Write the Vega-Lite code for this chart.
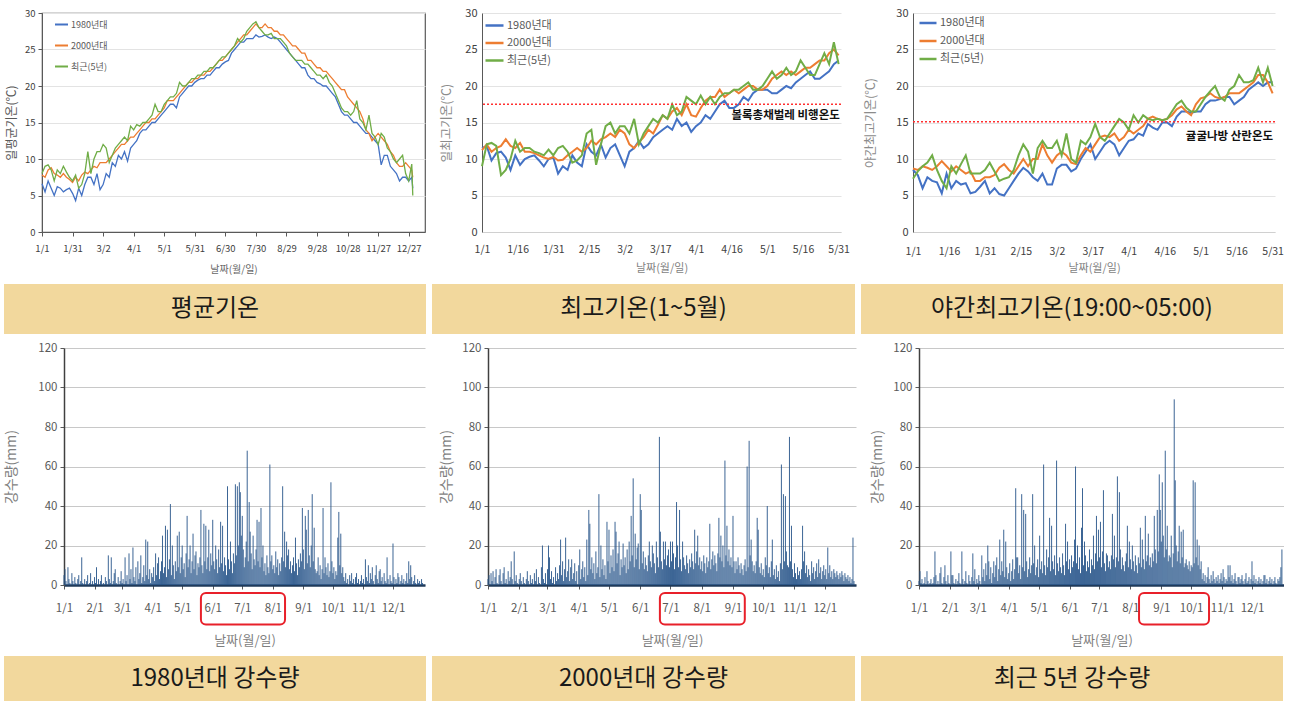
{
"$schema":"https://vega.github.io/schema/vega-lite/v6.json",
"background":"white",
"padding":{"left":-11,"top":7,"right":0,"bottom":0},
"config":{
 "font":"Noto Sans CJK KR",
 "view":{"stroke":null},
 "axis":{"labelFont":"Noto Sans CJK KR","titleFont":"Noto Sans CJK KR","titleFontWeight":"normal","labelColor":"#404040","titleColor":"#7F7F7F","domainColor":"#595959","tickColor":"#595959","gridColor":"#E3E3E3","labelFlush":false,"labelOverlap":false,"tickCount":30},
 "legend":{"labelFont":"Noto Sans CJK KR","labelColor":"#595959"}
},
"datasets":{
"t1":[
{"d":1,"a":6.6,"b":7.8,"c":8.0},{"d":4,"a":5.5,"b":7.5,"c":9.0},{"d":7,"a":7.0,"b":8.5,"c":9.2},{"d":10,"a":6.0,"b":8.8,"c":8.5},{"d":13,"a":5.0,"b":8.0,"c":7.0},{"d":16,"a":6.2,"b":7.8,"c":8.5},{"d":19,"a":6.0,"b":7.5,"c":8.0},{"d":22,"a":5.5,"b":8.0,"c":9.0},{"d":25,"a":5.8,"b":7.5,"c":8.2},{"d":28,"a":6.0,"b":7.2,"c":7.5},{"d":31,"a":5.3,"b":6.8,"c":7.0},{"d":34,"a":4.3,"b":7.5,"c":7.8},{"d":37,"a":6.0,"b":7.0,"c":6.0},{"d":40,"a":5.0,"b":7.8,"c":6.5},{"d":43,"a":6.5,"b":8.2,"c":8.0},{"d":46,"a":7.5,"b":8.0,"c":11.0},{"d":49,"a":7.5,"b":8.5,"c":8.0},{"d":52,"a":6.5,"b":9.0,"c":10.0},{"d":55,"a":8.0,"b":8.8,"c":11.0},{"d":58,"a":5.8,"b":9.5,"c":11.0},{"d":61,"a":6.5,"b":9.5,"c":12.0},{"d":64,"a":8.0,"b":9.5,"c":11.5},{"d":67,"a":7.5,"b":10.0,"c":9.5},{"d":70,"a":9.5,"b":10.5,"c":10.5},{"d":73,"a":9.0,"b":11.0,"c":11.5},{"d":76,"a":10.5,"b":11.5,"c":12.0},{"d":79,"a":10.0,"b":12.0,"c":12.5},{"d":82,"a":11.0,"b":12.0,"c":13.0},{"d":85,"a":9.7,"b":12.5,"c":12.5},{"d":88,"a":11.5,"b":13.0,"c":14.5},{"d":91,"a":12.0,"b":13.0,"c":14.0},{"d":94,"a":12.5,"b":13.5,"c":14.7},{"d":97,"a":13.5,"b":14.0,"c":14.5},{"d":100,"a":14.0,"b":14.5,"c":15.0},{"d":103,"a":14.0,"b":15.0,"c":15.0},{"d":106,"a":14.5,"b":15.0,"c":15.5},{"d":109,"a":15.0,"b":15.5,"c":16.0},{"d":112,"a":15.0,"b":15.5,"c":17.5},{"d":115,"a":15.5,"b":16.0,"c":16.5},{"d":118,"a":16.0,"b":16.5,"c":16.5},{"d":121,"a":16.5,"b":17.0,"c":17.5},{"d":124,"a":17.0,"b":18.0,"c":18.0},{"d":127,"a":17.5,"b":18.0,"c":18.5},{"d":130,"a":17.5,"b":18.0,"c":18.5},{"d":133,"a":17.0,"b":18.5,"c":19.0},{"d":136,"a":18.5,"b":19.0,"c":20.5},{"d":139,"a":19.0,"b":19.5,"c":20.0},{"d":142,"a":19.5,"b":20.0,"c":20.0},{"d":145,"a":20.0,"b":20.5,"c":20.5},{"d":148,"a":20.0,"b":20.5,"c":21.0},{"d":151,"a":20.5,"b":21.0,"c":21.0},{"d":154,"a":20.8,"b":21.0,"c":21.5},{"d":157,"a":21.0,"b":21.5,"c":21.5},{"d":160,"a":21.0,"b":21.5,"c":22.0},{"d":163,"a":21.5,"b":22.0,"c":22.0},{"d":166,"a":21.5,"b":22.0,"c":22.5},{"d":169,"a":22.0,"b":22.5,"c":22.5},{"d":172,"a":22.5,"b":23.0,"c":23.0},{"d":175,"a":22.5,"b":23.5,"c":23.5},{"d":178,"a":23.0,"b":23.5,"c":24.0},{"d":181,"a":23.3,"b":24.0,"c":24.0},{"d":184,"a":23.5,"b":24.5,"c":24.5},{"d":187,"a":24.5,"b":25.0,"c":25.0},{"d":190,"a":25.0,"b":25.5,"c":25.5},{"d":193,"a":25.5,"b":26.0,"c":26.5},{"d":196,"a":26.0,"b":26.5,"c":26.0},{"d":199,"a":26.0,"b":27.0,"c":26.5},{"d":202,"a":26.5,"b":27.0,"c":27.5},{"d":205,"a":26.5,"b":27.5,"c":28.0},{"d":208,"a":26.5,"b":28.0,"c":28.5},{"d":211,"a":27.0,"b":28.5,"c":28.8},{"d":214,"a":26.7,"b":28.0,"c":28.0},{"d":217,"a":26.8,"b":28.0,"c":27.5},{"d":220,"a":27.0,"b":28.5,"c":27.0},{"d":223,"a":26.7,"b":28.0,"c":27.0},{"d":226,"a":26.5,"b":28.0,"c":27.2},{"d":229,"a":26.7,"b":27.5,"c":26.5},{"d":232,"a":26.5,"b":27.5,"c":26.5},{"d":235,"a":26.0,"b":27.0,"c":26.5},{"d":238,"a":25.5,"b":27.0,"c":26.0},{"d":241,"a":25.0,"b":26.5,"c":25.5},{"d":244,"a":24.5,"b":26.0,"c":24.5},{"d":247,"a":24.0,"b":25.5,"c":24.0},{"d":250,"a":23.5,"b":25.5,"c":23.5},{"d":253,"a":23.0,"b":25.0,"c":23.5},{"d":256,"a":22.5,"b":24.5,"c":23.5},{"d":259,"a":22.5,"b":24.5,"c":23.0},{"d":262,"a":21.5,"b":23.5,"c":23.0},{"d":265,"a":21.0,"b":23.5,"c":22.5},{"d":268,"a":21.0,"b":23.0,"c":22.0},{"d":271,"a":20.5,"b":22.5,"c":21.5},{"d":274,"a":20.3,"b":22.5,"c":21.5},{"d":277,"a":20.0,"b":22.0,"c":21.0},{"d":280,"a":20.0,"b":22.0,"c":21.5},{"d":283,"a":19.5,"b":21.5,"c":20.5},{"d":286,"a":19.0,"b":21.0,"c":20.0},{"d":289,"a":18.5,"b":20.5,"c":19.0},{"d":292,"a":17.5,"b":20.0,"c":18.0},{"d":295,"a":16.5,"b":19.5,"c":17.0},{"d":298,"a":16.0,"b":19.5,"c":16.5},{"d":301,"a":16.0,"b":18.5,"c":16.5},{"d":304,"a":15.5,"b":18.0,"c":16.0},{"d":307,"a":15.0,"b":17.5,"c":16.5},{"d":310,"a":15.0,"b":17.0,"c":18.0},{"d":313,"a":14.5,"b":16.5,"c":15.5},{"d":316,"a":14.0,"b":15.5,"c":15.0},{"d":319,"a":13.5,"b":14.0,"c":14.0},{"d":322,"a":13.5,"b":13.5,"c":16.0},{"d":325,"a":13.0,"b":12.5,"c":13.5},{"d":328,"a":12.5,"b":13.0,"c":13.0},{"d":331,"a":12.0,"b":13.5,"c":12.0},{"d":334,"a":9.2,"b":13.0,"c":13.5},{"d":337,"a":10.5,"b":12.5,"c":13.0},{"d":340,"a":10.5,"b":12.0,"c":11.5},{"d":343,"a":9.0,"b":11.0,"c":11.0},{"d":346,"a":8.5,"b":10.5,"c":10.0},{"d":349,"a":8.0,"b":9.5,"c":9.5},{"d":352,"a":7.0,"b":9.0,"c":10.0},{"d":355,"a":7.5,"b":9.0,"c":10.5},{"d":358,"a":7.5,"b":9.5,"c":8.0},{"d":361,"a":7.0,"b":9.0,"c":7.0},{"d":364,"a":7.5,"b":8.5,"c":9.3},{"d":365,"a":6.0,"b":7.5,"c":5.0}
],
"t2":[
{"d":1,"a":11.5,"b":11.2,"c":9.0},{"d":3,"a":11.8,"b":12.0,"c":12.0},{"d":5,"a":9.8,"b":11.0,"c":12.2},{"d":7,"a":10.8,"b":11.5,"c":11.8},{"d":9,"a":11.0,"b":11.8,"c":7.8},{"d":11,"a":10.2,"b":12.7,"c":8.5},{"d":13,"a":8.5,"b":11.8,"c":10.0},{"d":15,"a":10.5,"b":11.5,"c":12.5},{"d":17,"a":9.2,"b":12.2,"c":11.0},{"d":19,"a":10.0,"b":11.0,"c":11.5},{"d":21,"a":10.3,"b":11.0,"c":11.5},{"d":23,"a":10.5,"b":10.8,"c":11.0},{"d":25,"a":9.8,"b":10.5,"c":10.8},{"d":27,"a":9.0,"b":10.2,"c":10.5},{"d":29,"a":10.0,"b":10.0,"c":11.3},{"d":31,"a":10.2,"b":10.3,"c":10.5},{"d":33,"a":8.0,"b":9.8,"c":11.5},{"d":35,"a":9.0,"b":9.9,"c":11.8},{"d":37,"a":8.5,"b":10.5,"c":11.0},{"d":39,"a":10.5,"b":11.0,"c":9.5},{"d":41,"a":9.5,"b":11.5,"c":9.8},{"d":43,"a":9.0,"b":11.0,"c":10.5},{"d":45,"a":12.0,"b":11.5,"c":13.5},{"d":47,"a":11.0,"b":12.5,"c":14.0},{"d":49,"a":10.5,"b":12.0,"c":9.2},{"d":51,"a":12.0,"b":12.7,"c":12.0},{"d":53,"a":10.2,"b":13.0,"c":14.5},{"d":55,"a":11.5,"b":13.5,"c":15.0},{"d":57,"a":12.0,"b":13.0,"c":13.5},{"d":59,"a":10.5,"b":14.0,"c":14.5},{"d":61,"a":9.0,"b":13.5,"c":14.5},{"d":63,"a":11.0,"b":12.0,"c":13.5},{"d":65,"a":11.5,"b":11.5,"c":15.5},{"d":67,"a":12.5,"b":12.3,"c":12.0},{"d":69,"a":11.5,"b":13.0,"c":13.5},{"d":71,"a":12.0,"b":14.0,"c":14.5},{"d":73,"a":13.0,"b":13.5,"c":15.5},{"d":75,"a":13.5,"b":14.7,"c":15.0},{"d":77,"a":14.0,"b":16.0,"c":16.0},{"d":79,"a":14.5,"b":15.5,"c":15.5},{"d":81,"a":14.0,"b":16.5,"c":17.5},{"d":83,"a":15.5,"b":17.0,"c":16.0},{"d":85,"a":14.5,"b":16.0,"c":16.5},{"d":87,"a":15.0,"b":17.5,"c":18.5},{"d":89,"a":13.7,"b":16.0,"c":18.0},{"d":91,"a":14.5,"b":15.8,"c":17.5},{"d":93,"a":15.0,"b":17.0,"c":18.7},{"d":95,"a":16.0,"b":18.0,"c":17.5},{"d":97,"a":15.5,"b":18.5,"c":18.5},{"d":99,"a":16.5,"b":18.5,"c":17.5},{"d":101,"a":17.5,"b":19.5,"c":18.5},{"d":103,"a":18.0,"b":18.5,"c":19.0},{"d":105,"a":17.0,"b":19.0,"c":19.0},{"d":107,"a":17.0,"b":19.5,"c":19.5},{"d":109,"a":17.5,"b":19.0,"c":19.5},{"d":111,"a":18.5,"b":19.5,"c":20.0},{"d":113,"a":18.0,"b":20.0,"c":20.5},{"d":115,"a":19.0,"b":20.0,"c":19.5},{"d":117,"a":19.5,"b":19.5,"c":19.5},{"d":119,"a":19.5,"b":19.5,"c":20.0},{"d":121,"a":19.5,"b":20.0,"c":21.0},{"d":123,"a":19.0,"b":21.0,"c":22.0},{"d":125,"a":19.0,"b":21.5,"c":21.0},{"d":127,"a":19.5,"b":22.0,"c":21.5},{"d":129,"a":20.0,"b":21.5,"c":22.5},{"d":131,"a":19.7,"b":22.0,"c":21.5},{"d":133,"a":20.5,"b":21.5,"c":22.0},{"d":135,"a":21.0,"b":22.0,"c":23.5},{"d":137,"a":21.5,"b":22.5,"c":22.5},{"d":139,"a":22.0,"b":22.5,"c":21.5},{"d":141,"a":21.0,"b":23.0,"c":21.5},{"d":143,"a":21.0,"b":23.5,"c":23.0},{"d":145,"a":21.5,"b":23.5,"c":24.5},{"d":147,"a":22.0,"b":24.5,"c":23.0},{"d":149,"a":23.0,"b":25.0,"c":26.0},{"d":151,"a":23.5,"b":24.2,"c":23.0}
],
"t3":[
{"d":1,"a":8.5,"b":8.7,"c":7.3},{"d":3,"a":7.8,"b":8.5,"c":8.3},{"d":5,"a":6.0,"b":9.0,"c":9.0},{"d":7,"a":7.5,"b":8.8,"c":9.5},{"d":9,"a":7.0,"b":8.5,"c":10.5},{"d":11,"a":6.8,"b":9.0,"c":8.5},{"d":13,"a":5.3,"b":9.7,"c":7.0},{"d":15,"a":8.0,"b":9.0,"c":6.0},{"d":17,"a":6.0,"b":8.3,"c":9.0},{"d":19,"a":7.0,"b":9.0,"c":8.0},{"d":21,"a":6.5,"b":8.5,"c":9.3},{"d":23,"a":6.7,"b":8.0,"c":10.5},{"d":25,"a":5.3,"b":8.3,"c":8.0},{"d":27,"a":5.5,"b":7.0,"c":8.0},{"d":29,"a":6.2,"b":7.0,"c":8.0},{"d":31,"a":7.0,"b":7.5,"c":8.5},{"d":33,"a":5.3,"b":7.5,"c":9.5},{"d":35,"a":6.0,"b":7.8,"c":8.3},{"d":37,"a":5.2,"b":8.8,"c":7.0},{"d":39,"a":5.0,"b":9.3,"c":7.3},{"d":41,"a":6.0,"b":8.5,"c":7.5},{"d":43,"a":7.0,"b":8.0,"c":8.5},{"d":45,"a":8.0,"b":9.0,"c":10.5},{"d":47,"a":8.8,"b":10.0,"c":12.0},{"d":49,"a":8.3,"b":9.0,"c":11.0},{"d":51,"a":7.5,"b":10.0,"c":8.0},{"d":53,"a":7.0,"b":10.0,"c":11.5},{"d":55,"a":8.0,"b":12.0,"c":12.5},{"d":57,"a":6.5,"b":10.5,"c":11.5},{"d":59,"a":6.5,"b":9.5,"c":11.5},{"d":61,"a":8.7,"b":10.5,"c":12.5},{"d":63,"a":9.2,"b":11.0,"c":10.5},{"d":65,"a":9.2,"b":10.5,"c":13.5},{"d":67,"a":8.3,"b":9.5,"c":10.0},{"d":69,"a":8.7,"b":9.3,"c":9.5},{"d":71,"a":10.0,"b":10.5,"c":12.5},{"d":73,"a":11.0,"b":11.5,"c":12.0},{"d":75,"a":12.0,"b":11.0,"c":13.0},{"d":77,"a":10.0,"b":12.0,"c":14.8},{"d":79,"a":11.0,"b":13.0,"c":13.0},{"d":81,"a":12.0,"b":13.2,"c":12.5},{"d":83,"a":12.5,"b":13.0,"c":13.5},{"d":85,"a":12.0,"b":13.5,"c":14.5},{"d":87,"a":10.5,"b":12.5,"c":15.5},{"d":89,"a":11.5,"b":13.0,"c":15.0},{"d":91,"a":12.5,"b":14.0,"c":14.0},{"d":93,"a":12.7,"b":13.5,"c":16.0},{"d":95,"a":13.5,"b":14.0,"c":15.0},{"d":97,"a":13.2,"b":14.5,"c":16.0},{"d":99,"a":14.8,"b":15.5,"c":15.5},{"d":101,"a":14.3,"b":15.8,"c":15.3},{"d":103,"a":14.0,"b":15.5,"c":15.5},{"d":105,"a":15.0,"b":15.3,"c":15.3},{"d":107,"a":15.0,"b":15.5,"c":15.5},{"d":109,"a":14.5,"b":16.0,"c":16.5},{"d":111,"a":15.8,"b":16.8,"c":17.5},{"d":113,"a":16.5,"b":17.2,"c":18.0},{"d":115,"a":16.5,"b":16.5,"c":17.0},{"d":117,"a":16.3,"b":16.0,"c":16.5},{"d":119,"a":16.5,"b":17.5,"c":16.5},{"d":121,"a":16.5,"b":18.3,"c":17.5},{"d":123,"a":17.5,"b":18.5,"c":18.5},{"d":125,"a":18.0,"b":19.0,"c":19.3},{"d":127,"a":18.0,"b":18.5,"c":20.0},{"d":129,"a":18.2,"b":18.3,"c":18.5},{"d":131,"a":18.5,"b":18.5,"c":18.0},{"d":133,"a":18.5,"b":19.0,"c":19.5},{"d":135,"a":17.5,"b":19.0,"c":20.0},{"d":137,"a":18.0,"b":19.0,"c":21.5},{"d":139,"a":18.5,"b":19.5,"c":20.5},{"d":141,"a":19.5,"b":20.0,"c":20.5},{"d":143,"a":20.0,"b":20.5,"c":20.8},{"d":145,"a":20.5,"b":21.5,"c":22.5},{"d":147,"a":20.0,"b":21.5,"c":20.5},{"d":149,"a":20.5,"b":20.5,"c":22.5},{"d":151,"a":20.5,"b":19.0,"c":20.0}
],
"p":[
{"d":1,"a":5,"b":3,"c":2},{"d":2,"a":8,"b":5,"c":7},{"d":3,"a":2,"b":0,"c":1},{"d":4,"a":0,"b":6,"c":3},{"d":5,"a":9,"b":2,"c":0},{"d":6,"a":3,"b":7,"c":1},{"d":7,"a":1,"b":0,"c":4},{"d":8,"a":0,"b":4,"c":0},{"d":9,"a":6,"b":8,"c":7},{"d":10,"a":2,"b":1,"c":2},
{"d":11,"a":0,"b":0,"c":0},{"d":12,"a":4,"b":5,"c":1},{"d":13,"a":1,"b":8,"c":3},{"d":14,"a":0,"b":2,"c":0},{"d":15,"a":3,"b":0,"c":1},{"d":16,"a":5,"b":6,"c":4},{"d":17,"a":0,"b":9,"c":17},{"d":18,"a":2,"b":1,"c":5},{"d":19,"a":14,"b":3,"c":0},{"d":20,"a":1,"b":0,"c":2},
{"d":21,"a":0,"b":7,"c":0},{"d":22,"a":3,"b":2,"c":6},{"d":23,"a":0,"b":4,"c":9},{"d":24,"a":2,"b":12,"c":1},{"d":25,"a":5,"b":3,"c":0},{"d":26,"a":0,"b":0,"c":4},{"d":27,"a":1,"b":17,"c":10},{"d":28,"a":6,"b":2,"c":2},{"d":29,"a":0,"b":5,"c":0},{"d":30,"a":2,"b":1,"c":5},
{"d":31,"a":0,"b":0,"c":1},{"d":32,"a":4,"b":3,"c":0},{"d":33,"a":1,"b":6,"c":17},{"d":34,"a":9,"b":2,"c":5},{"d":35,"a":0,"b":0,"c":5},{"d":36,"a":3,"b":4,"c":1},{"d":37,"a":0,"b":1,"c":0},{"d":38,"a":2,"b":0,"c":3},{"d":39,"a":5,"b":3,"c":0},{"d":40,"a":0,"b":7,"c":2},
{"d":41,"a":1,"b":2,"c":6},{"d":42,"a":0,"b":0,"c":1},{"d":43,"a":4,"b":5,"c":0},{"d":44,"a":2,"b":1,"c":17},{"d":45,"a":0,"b":3,"c":3},{"d":46,"a":15,"b":0,"c":0},{"d":47,"a":3,"b":6,"c":2},{"d":48,"a":1,"b":2,"c":7},{"d":49,"a":14,"b":8,"c":1},{"d":50,"a":0,"b":0,"c":0},
{"d":51,"a":2,"b":4,"c":5},{"d":52,"a":6,"b":1,"c":2},{"d":53,"a":8,"b":0,"c":0},{"d":54,"a":1,"b":9,"c":4},{"d":55,"a":0,"b":20,"c":16},{"d":56,"a":4,"b":3,"c":2},{"d":57,"a":0,"b":1,"c":8},{"d":58,"a":2,"b":6,"c":0},{"d":59,"a":7,"b":0,"c":3},{"d":60,"a":1,"b":8,"c":1},
{"d":61,"a":3,"b":20,"c":5},{"d":62,"a":0,"b":14,"c":2},{"d":63,"a":14,"b":3,"c":0},{"d":64,"a":2,"b":7,"c":15},{"d":65,"a":5,"b":1,"c":4},{"d":66,"a":0,"b":4,"c":8},{"d":67,"a":16,"b":0,"c":2},{"d":68,"a":3,"b":9,"c":11},{"d":69,"a":8,"b":2,"c":5},{"d":70,"a":1,"b":6,"c":20},
{"d":71,"a":19,"b":3,"c":12},{"d":72,"a":4,"b":10,"c":3},{"d":73,"a":2,"b":23,"c":9},{"d":74,"a":9,"b":5,"c":1},{"d":75,"a":0,"b":12,"c":6},{"d":76,"a":12,"b":2,"c":12},{"d":77,"a":3,"b":8,"c":4},{"d":78,"a":6,"b":24,"c":10},{"d":79,"a":15,"b":4,"c":14},{"d":80,"a":1,"b":7,"c":2},
{"d":81,"a":4,"b":13,"c":8},{"d":82,"a":10,"b":2,"c":23},{"d":83,"a":2,"b":9,"c":5},{"d":84,"a":23,"b":13,"c":12},{"d":85,"a":5,"b":3,"c":7},{"d":86,"a":22,"b":6,"c":28},{"d":87,"a":3,"b":11,"c":4},{"d":88,"a":8,"b":2,"c":22},{"d":89,"a":1,"b":7,"c":9},{"d":90,"a":6,"b":0,"c":3},
{"d":91,"a":4,"b":10,"c":6},{"d":92,"a":9,"b":18,"c":11},{"d":93,"a":2,"b":3,"c":2},{"d":94,"a":16,"b":8,"c":7},{"d":95,"a":5,"b":12,"c":13},{"d":96,"a":11,"b":4,"c":3},{"d":97,"a":14,"b":9,"c":8},{"d":98,"a":3,"b":2,"c":49},{"d":99,"a":7,"b":23,"c":14},{"d":100,"a":12,"b":5,"c":14},
{"d":101,"a":25,"b":38,"c":6},{"d":102,"a":6,"b":31,"c":10},{"d":103,"a":9,"b":8,"c":3},{"d":104,"a":30,"b":14,"c":46},{"d":105,"a":4,"b":6,"c":9},{"d":106,"a":28,"b":11,"c":38},{"d":107,"a":8,"b":3,"c":7},{"d":108,"a":13,"b":17,"c":36},{"d":109,"a":41,"b":6,"c":12},{"d":110,"a":5,"b":9,"c":4},
{"d":111,"a":20,"b":46,"c":8},{"d":112,"a":10,"b":4,"c":14},{"d":113,"a":3,"b":20,"c":6},{"d":114,"a":12,"b":8,"c":10},{"d":115,"a":7,"b":13,"c":46},{"d":116,"a":25,"b":5,"c":11},{"d":117,"a":9,"b":10,"c":20},{"d":118,"a":27,"b":3,"c":5},{"d":119,"a":6,"b":32,"c":9},{"d":120,"a":14,"b":12,"c":13},
{"d":121,"a":20,"b":28,"c":4},{"d":122,"a":8,"b":6,"c":25},{"d":123,"a":11,"b":15,"c":8},{"d":124,"a":4,"b":9,"c":12},{"d":125,"a":16,"b":18,"c":6},{"d":126,"a":35,"b":7,"c":61},{"d":127,"a":9,"b":32,"c":10},{"d":128,"a":13,"b":27,"c":5},{"d":129,"a":20,"b":11,"c":18},{"d":130,"a":6,"b":16,"c":9},
{"d":131,"a":12,"b":22,"c":14},{"d":132,"a":26,"b":5,"c":34},{"d":133,"a":8,"b":13,"c":7},{"d":134,"a":15,"b":9,"c":30},{"d":135,"a":17,"b":21,"c":12},{"d":136,"a":5,"b":10,"c":8},{"d":137,"a":11,"b":14,"c":15},{"d":138,"a":9,"b":6,"c":5},{"d":139,"a":14,"b":18,"c":63},{"d":140,"a":38,"b":8,"c":11},
{"d":141,"a":10,"b":22,"c":7},{"d":142,"a":6,"b":12,"c":14},{"d":143,"a":31,"b":35,"c":9},{"d":144,"a":12,"b":15,"c":6},{"d":145,"a":30,"b":54,"c":16},{"d":146,"a":8,"b":9,"c":10},{"d":147,"a":14,"b":26,"c":5},{"d":148,"a":28,"b":13,"c":31},{"d":149,"a":7,"b":19,"c":12},{"d":150,"a":16,"b":21,"c":22},
{"d":151,"a":10,"b":8,"c":8},{"d":152,"a":33,"b":46,"c":13},{"d":153,"a":12,"b":38,"c":6},{"d":154,"a":8,"b":11,"c":15},{"d":155,"a":20,"b":17,"c":9},{"d":156,"a":13,"b":8,"c":12},{"d":157,"a":6,"b":14,"c":23},{"d":158,"a":18,"b":10,"c":60},{"d":159,"a":9,"b":7,"c":11},{"d":160,"a":32,"b":15,"c":20},
{"d":161,"a":11,"b":22,"c":8},{"d":162,"a":30,"b":12,"c":14},{"d":163,"a":7,"b":9,"c":6},{"d":164,"a":14,"b":20,"c":29},{"d":165,"a":10,"b":16,"c":49},{"d":166,"a":5,"b":11,"c":10},{"d":167,"a":50,"b":6,"c":22},{"d":168,"a":13,"b":22,"c":15},{"d":169,"a":8,"b":14,"c":7},{"d":170,"a":22,"b":9,"c":12},
{"d":171,"a":12,"b":75,"c":9},{"d":172,"a":6,"b":27,"c":18},{"d":173,"a":16,"b":12,"c":6},{"d":174,"a":11,"b":8,"c":13},{"d":175,"a":51,"b":22,"c":10},{"d":176,"a":15,"b":13,"c":25},{"d":177,"a":50,"b":22,"c":8},{"d":178,"a":20,"b":10,"c":16},{"d":179,"a":52,"b":15,"c":35},{"d":180,"a":47,"b":18,"c":12},
{"d":181,"a":25,"b":9,"c":28},{"d":182,"a":35,"b":22,"c":14},{"d":183,"a":18,"b":12,"c":32},{"d":184,"a":9,"b":22,"c":9},{"d":185,"a":14,"b":16,"c":17},{"d":186,"a":22,"b":8,"c":48},{"d":187,"a":68,"b":14,"c":11},{"d":188,"a":12,"b":42,"c":7},{"d":189,"a":42,"b":20,"c":16},{"d":190,"a":27,"b":9,"c":15},
{"d":191,"a":16,"b":38,"c":9},{"d":192,"a":8,"b":13,"c":12},{"d":193,"a":25,"b":7,"c":8},{"d":194,"a":13,"b":22,"c":15},{"d":195,"a":10,"b":14,"c":36},{"d":196,"a":18,"b":10,"c":13},{"d":197,"a":33,"b":8,"c":25},{"d":198,"a":12,"b":15,"c":9},{"d":199,"a":32,"b":11,"c":14},{"d":200,"a":9,"b":6,"c":55},
{"d":201,"a":39,"b":13,"c":12},{"d":202,"a":14,"b":9,"c":47},{"d":203,"a":20,"b":16,"c":18},{"d":204,"a":7,"b":12,"c":8},{"d":205,"a":11,"b":8,"c":14},{"d":206,"a":5,"b":28,"c":10},{"d":207,"a":15,"b":11,"c":7},{"d":208,"a":9,"b":17,"c":12},{"d":209,"a":6,"b":25,"c":16},{"d":210,"a":61,"b":10,"c":30},
{"d":211,"a":12,"b":14,"c":9},{"d":212,"a":15,"b":8,"c":22},{"d":213,"a":8,"b":12,"c":13},{"d":214,"a":10,"b":7,"c":8},{"d":215,"a":6,"b":15,"c":20},{"d":216,"a":17,"b":11,"c":12},{"d":217,"a":9,"b":6,"c":7},{"d":218,"a":13,"b":14,"c":15},{"d":219,"a":5,"b":9,"c":10},{"d":220,"a":11,"b":12,"c":6},
{"d":221,"a":7,"b":31,"c":14},{"d":222,"a":14,"b":8,"c":11},{"d":223,"a":50,"b":13,"c":29},{"d":224,"a":12,"b":17,"c":9},{"d":225,"a":27,"b":10,"c":23},{"d":226,"a":9,"b":15,"c":13},{"d":227,"a":22,"b":11,"c":8},{"d":228,"a":15,"b":7,"c":35},{"d":229,"a":18,"b":16,"c":12},{"d":230,"a":8,"b":34,"c":15},
{"d":231,"a":12,"b":14,"c":26},{"d":232,"a":6,"b":25,"c":10},{"d":233,"a":10,"b":12,"c":14},{"d":234,"a":14,"b":20,"c":9},{"d":235,"a":7,"b":9,"c":16},{"d":236,"a":24,"b":63,"c":12},{"d":237,"a":11,"b":15,"c":35},{"d":238,"a":5,"b":30,"c":18},{"d":239,"a":13,"b":12,"c":11},{"d":240,"a":9,"b":18,"c":38},
{"d":241,"a":16,"b":10,"c":17},{"d":242,"a":12,"b":14,"c":56},{"d":243,"a":39,"b":9,"c":38},{"d":244,"a":18,"b":35,"c":22},{"d":245,"a":8,"b":12,"c":52},{"d":246,"a":35,"b":6,"c":25},{"d":247,"a":28,"b":12,"c":14},{"d":248,"a":11,"b":8,"c":68},{"d":249,"a":38,"b":14,"c":18},{"d":250,"a":15,"b":10,"c":30},
{"d":251,"a":9,"b":6,"c":12},{"d":252,"a":20,"b":11,"c":15},{"d":253,"a":46,"b":8,"c":14},{"d":254,"a":12,"b":5,"c":25},{"d":255,"a":29,"b":10,"c":9},{"d":256,"a":8,"b":13,"c":16},{"d":257,"a":6,"b":7,"c":94},{"d":258,"a":7,"b":60,"c":53},{"d":259,"a":14,"b":9,"c":20},{"d":260,"a":5,"b":73,"c":12},
{"d":261,"a":10,"b":15,"c":17},{"d":262,"a":3,"b":23,"c":30},{"d":263,"a":8,"b":12,"c":11},{"d":264,"a":39,"b":7,"c":27},{"d":265,"a":6,"b":10,"c":14},{"d":266,"a":14,"b":6,"c":28},{"d":267,"a":9,"b":12,"c":9},{"d":268,"a":5,"b":34,"c":11},{"d":269,"a":11,"b":28,"c":13},{"d":270,"a":4,"b":9,"c":10},
{"d":271,"a":7,"b":6,"c":8},{"d":272,"a":52,"b":11,"c":12},{"d":273,"a":12,"b":5,"c":7},{"d":274,"a":6,"b":8,"c":10},{"d":275,"a":9,"b":4,"c":9},{"d":276,"a":3,"b":14,"c":53},{"d":277,"a":7,"b":10,"c":11},{"d":278,"a":5,"b":40,"c":52},{"d":279,"a":24,"b":6,"c":14},{"d":280,"a":37,"b":9,"c":23},
{"d":281,"a":10,"b":4,"c":10},{"d":282,"a":26,"b":12,"c":20},{"d":283,"a":6,"b":23,"c":8},{"d":284,"a":9,"b":5,"c":12},{"d":285,"a":4,"b":8,"c":3},{"d":286,"a":2,"b":3,"c":6},{"d":287,"a":6,"b":10,"c":2},{"d":288,"a":1,"b":4,"c":5},{"d":289,"a":3,"b":7,"c":1},{"d":290,"a":0,"b":2,"c":4},
{"d":291,"a":5,"b":11,"c":9},{"d":292,"a":2,"b":61,"c":3},{"d":293,"a":6,"b":8,"c":1},{"d":294,"a":1,"b":46,"c":5},{"d":295,"a":3,"b":12,"c":2},{"d":296,"a":0,"b":45,"c":7},{"d":297,"a":4,"b":17,"c":3},{"d":298,"a":6,"b":10,"c":1},{"d":299,"a":1,"b":9,"c":4},{"d":300,"a":3,"b":75,"c":2},
{"d":301,"a":0,"b":12,"c":5},{"d":302,"a":2,"b":30,"c":1},{"d":303,"a":5,"b":8,"c":3},{"d":304,"a":1,"b":4,"c":6},{"d":305,"a":3,"b":11,"c":2},{"d":306,"a":0,"b":6,"c":8},{"d":307,"a":13,"b":3,"c":4},{"d":308,"a":4,"b":9,"c":1},{"d":309,"a":2,"b":5,"c":3},{"d":310,"a":10,"b":7,"c":2},
{"d":311,"a":1,"b":3,"c":10},{"d":312,"a":6,"b":8,"c":4},{"d":313,"a":3,"b":30,"c":10},{"d":314,"a":9,"b":12,"c":2},{"d":315,"a":2,"b":17,"c":5},{"d":316,"a":0,"b":6,"c":1},{"d":317,"a":5,"b":10,"c":3},{"d":318,"a":10,"b":4,"c":6},{"d":319,"a":3,"b":8,"c":2},{"d":320,"a":1,"b":5,"c":0},
{"d":321,"a":7,"b":2,"c":4},{"d":322,"a":8,"b":12,"c":4},{"d":323,"a":2,"b":6,"c":1},{"d":324,"a":4,"b":9,"c":3},{"d":325,"a":0,"b":3,"c":5},{"d":326,"a":6,"b":7,"c":2},{"d":327,"a":2,"b":11,"c":0},{"d":328,"a":1,"b":4,"c":3},{"d":329,"a":14,"b":13,"c":6},{"d":330,"a":3,"b":6,"c":1},
{"d":331,"a":0,"b":9,"c":2},{"d":332,"a":5,"b":3,"c":4},{"d":333,"a":2,"b":7,"c":0},{"d":334,"a":1,"b":10,"c":3},{"d":335,"a":21,"b":5,"c":12},{"d":336,"a":4,"b":8,"c":2},{"d":337,"a":0,"b":3,"c":5},{"d":338,"a":3,"b":19,"c":1},{"d":339,"a":1,"b":6,"c":3},{"d":340,"a":6,"b":10,"c":0},
{"d":341,"a":4,"b":4,"c":2},{"d":342,"a":0,"b":7,"c":4},{"d":343,"a":2,"b":3,"c":1},{"d":344,"a":5,"b":8,"c":3},{"d":345,"a":1,"b":6,"c":0},{"d":346,"a":3,"b":4,"c":2},{"d":347,"a":0,"b":7,"c":5},{"d":348,"a":2,"b":5,"c":5},{"d":349,"a":6,"b":3,"c":1},{"d":350,"a":1,"b":6,"c":3},
{"d":351,"a":12,"b":4,"c":0},{"d":352,"a":3,"b":7,"c":2},{"d":353,"a":10,"b":5,"c":4},{"d":354,"a":4,"b":2,"c":1},{"d":355,"a":0,"b":6,"c":3},{"d":356,"a":2,"b":4,"c":0},{"d":357,"a":5,"b":3,"c":2},{"d":358,"a":1,"b":5,"c":4},{"d":359,"a":0,"b":2,"c":1},{"d":360,"a":3,"b":4,"c":0},
{"d":361,"a":1,"b":1,"c":3},{"d":362,"a":2,"b":3,"c":2},{"d":363,"a":0,"b":24,"c":4},{"d":364,"a":3,"b":2,"c":9},{"d":365,"a":1,"b":0,"c":18}
]
},
"spacing":8,
"resolve":{"scale":{"x":"independent","y":"independent","color":"independent"},"legend":{"color":"independent"}},
"vconcat":[
{"spacing":14,
 "resolve":{"scale":{"x":"independent","y":"independent","color":"independent"},"legend":{"color":"independent"}},
 "hconcat":[
 {"width":1,"height":1,"data":{"values":[]},"mark":{"type":"point","opacity":0}},
 {"width":383,"height":219,"data":{"name":"t1"},"view":{"stroke":"#595959","strokeWidth":1.2},
  "transform":[{"fold":["a","b","c"],"as":["k","v"]}],
  "mark":{"type":"line","strokeWidth":1.3},
  "encoding":{
   "x":{"field":"d","type":"quantitative","scale":{"domain":[1,377],"nice":false,"zero":false},
    "axis":{"values":[1,31,61,91,121,151,181,211,241,271,301,331,361],"tickCount":30,"labelOverlap":false,"labelExpr":"utcFormat(utc(2021,0,datum.value),'%-m/%-d')","title":"날짜(월/일)","grid":false,"labelFontSize":9.5,"titleFontSize":10,"tickSize":4,"labelPadding":7,"titlePadding":12,"titleColor":"#666666"}},
   "y":{"field":"v","type":"quantitative","scale":{"domain":[0,30],"nice":false},
    "axis":{"values":[0,5,10,15,20,25,30],"tickCount":30,"labelOverlap":false,"title":"일평균기온(℃)","labelFontSize":9.5,"titleFontSize":12,"tickSize":4,"labelPadding":3,"titlePadding":6,"titleColor":"#595959"}},
   "color":{"field":"k","type":"nominal","scale":{"domain":["a","b","c"],"range":["#4472C4","#ED7D31","#70AD47"]},
    "legend":{"title":null,"orient":"none","legendX":12,"legendY":4,"symbolType":"stroke","symbolStrokeWidth":2,"symbolSize":169,"labelFontSize":9,"rowPadding":8,"labelOffset":2,"labelExpr":"datum.label == 'a' ? '1980년대' : datum.label == 'b' ? '2000년대' : '최근(5년)'"}}
  }},
 {"width":359,"height":219,"data":{"name":"t2"},"layer":[
  {"transform":[{"fold":["a","b","c"],"as":["k","v"]}],
   "mark":{"type":"line","strokeWidth":2},
   "encoding":{
    "x":{"field":"d","type":"quantitative","scale":{"domain":[1,152],"nice":false,"zero":false},
     "axis":{"values":[1,16,31,46,61,76,91,106,121,136,151],"tickCount":30,"labelOverlap":false,"labelExpr":"utcFormat(utc(2021,0,datum.value),'%-m/%-d')","title":"날짜(월/일)","grid":false,"ticks":false,"labelFontSize":10.5,"titleFontSize":11,"labelPadding":12.5,"titlePadding":7,"domainColor":"#D0D0D0"}},
    "y":{"field":"v","type":"quantitative","scale":{"domain":[0,30],"nice":false},
     "axis":{"values":[0,5,10,15,20,25,30],"tickCount":30,"labelOverlap":false,"title":"일최고기온(℃)","ticks":false,"labelFontSize":11,"titleFontSize":12.5,"labelPadding":5,"titlePadding":11,"titleColor":"#8C8C8C"}},
    "color":{"field":"k","type":"nominal","scale":{"domain":["a","b","c"],"range":["#4472C4","#ED7D31","#70AD47"]},
     "legend":{"title":null,"orient":"none","legendX":2,"legendY":2,"symbolType":"stroke","symbolStrokeWidth":2.5,"symbolSize":324,"labelFontSize":11,"rowPadding":1.5,"labelOffset":2,"labelExpr":"datum.label == 'a' ? '1980년대' : datum.label == 'b' ? '2000년대' : '최근(5년)'"}}
   }},
  {"data":{"values":[{}]},"mark":{"type":"rule","color":"#FF3030","strokeDash":[2,2],"strokeWidth":1.5},"encoding":{"y":{"datum":17.5}}},
  {"data":{"values":[{"t":"볼록총채벌레 비행온도"}]},"mark":{"type":"text","align":"right","fontWeight":"bold","fontSize":11.5,"color":"#111111"},
   "encoding":{"x":{"datum":151.5},"y":{"datum":15.9},"text":{"field":"t"}}}
 ]},
 {"width":362,"height":219,"data":{"name":"t3"},"layer":[
  {"transform":[{"fold":["a","b","c"],"as":["k","v"]}],
   "mark":{"type":"line","strokeWidth":2},
   "encoding":{
    "x":{"field":"d","type":"quantitative","scale":{"domain":[1,152],"nice":false,"zero":false},
     "axis":{"values":[1,16,31,46,61,76,91,106,121,136,151],"tickCount":30,"labelOverlap":false,"labelExpr":"utcFormat(utc(2021,0,datum.value),'%-m/%-d')","title":"날짜(월/일)","grid":false,"ticks":false,"labelFontSize":10.5,"titleFontSize":11,"labelPadding":14.5,"titlePadding":5,"domainColor":"#D0D0D0"}},
    "y":{"field":"v","type":"quantitative","scale":{"domain":[0,30],"nice":false},
     "axis":{"values":[0,5,10,15,20,25,30],"tickCount":30,"labelOverlap":false,"title":"야간최고기온(℃)","ticks":false,"labelFontSize":11,"titleFontSize":12.5,"labelPadding":5,"titlePadding":18,"titleColor":"#8C8C8C"}},
    "color":{"field":"k","type":"nominal","scale":{"domain":["a","b","c"],"range":["#4472C4","#ED7D31","#70AD47"]},
     "legend":{"title":null,"orient":"none","legendX":5,"legendY":0,"symbolType":"stroke","symbolStrokeWidth":2.5,"symbolSize":289,"labelFontSize":11,"rowPadding":3,"labelOffset":2,"labelExpr":"datum.label == 'a' ? '1980년대' : datum.label == 'b' ? '2000년대' : '최근(5년)'"}}
   }},
  {"data":{"values":[{}]},"mark":{"type":"rule","color":"#FF3030","strokeDash":[2,2],"strokeWidth":1.5},"encoding":{"y":{"datum":15.1}}},
  {"data":{"values":[{"t":"귤굴나방 산란온도"}]},"mark":{"type":"text","align":"right","fontWeight":"bold","fontSize":11.5,"color":"#111111"},
   "encoding":{"x":{"datum":151.2},"y":{"datum":13.0},"text":{"field":"t"}}}
 ]}
]},
{"spacing":6,"hconcat":[
 {"width":9,"height":1,"data":{"values":[]},"mark":{"type":"point","opacity":0}},
 {"width":422,"height":50,"view":{"fill":"#F2D89D","stroke":null},"data":{"values":[{"t":"평균기온"}]},"mark":{"type":"text","fontSize":24,"color":"#1A1A1A","font":"Noto Sans CJK KR"},"encoding":{"text":{"field":"t"}}},
 {"width":423,"height":50,"view":{"fill":"#F2D89D","stroke":null},"data":{"values":[{"t":"최고기온(1~5월)"}]},"mark":{"type":"text","fontSize":24,"color":"#1A1A1A","font":"Noto Sans CJK KR"},"encoding":{"text":{"field":"t"}}},
 {"width":422,"height":50,"view":{"fill":"#F2D89D","stroke":null},"data":{"values":[{"t":"야간최고기온(19:00~05:00)"}]},"mark":{"type":"text","fontSize":24,"color":"#1A1A1A","font":"Noto Sans CJK KR"},"encoding":{"text":{"field":"t"}}}
]},
{"spacing":14,
 "resolve":{"scale":{"x":"independent","y":"independent"}},
 "hconcat":[
 {"width":1,"height":1,"data":{"values":[]},"mark":{"type":"point","opacity":0}},
 {"width":361,"height":237,"layer":[
  {"data":{"name":"p"},"mark":{"type":"rule","strokeWidth":1,"color":"#27548A","opacity":0.9},
   "encoding":{
    "x":{"field":"d","type":"quantitative","scale":{"domain":[1,367.5],"nice":false,"zero":false},
     "axis":{"values":[1,32,60,91,121,152,182,213,244,274,305,335],"tickCount":30,"labelOverlap":false,"labelExpr":"utcFormat(utc(2021,0,datum.value),'%-m/%-d')","title":"날짜(월/일)","grid":false,"labelFontSize":11.5,"titleFontSize":13,"tickSize":4,"labelPadding":13,"titlePadding":21,"domainColor":"#1F3A5A","domainWidth":2.5,"labelColor":"#595959","titleColor":"#7F7F7F"}},
    "y":{"field":"a","type":"quantitative","scale":{"domain":[0,120],"nice":false},
     "axis":{"values":[0,20,40,60,80,100,120],"tickCount":30,"labelOverlap":false,"title":"강수량(mm)","labelFontSize":11.5,"titleFontSize":14,"tickSize":4,"labelPadding":3,"titlePadding":19,"gridColor":"#C8C8C8","domainColor":"#404040","domainWidth":1.5,"labelColor":"#595959","titleColor":"#7F7F7F"}},
    "y2":{"datum":0}}},
  {"data":{"values":[{}]},"mark":{"type":"rect","fill":null,"stroke":"#E8202A","strokeWidth":2,"cornerRadius":5},
   "encoding":{"x":{"datum":140},"x2":{"datum":225.4},"y":{"datum":-4.1},"y2":{"datum":-20}}}
 ]},
 {"width":368,"height":237,"layer":[
  {"data":{"name":"p"},"mark":{"type":"rule","strokeWidth":1,"color":"#27548A","opacity":0.9},
   "encoding":{
    "x":{"field":"d","type":"quantitative","scale":{"domain":[1,366],"nice":false,"zero":false},
     "axis":{"values":[1,32,60,91,121,152,182,213,244,274,305,335],"tickCount":30,"labelOverlap":false,"labelExpr":"utcFormat(utc(2021,0,datum.value),'%-m/%-d')","title":"날짜(월/일)","grid":false,"labelFontSize":11.5,"titleFontSize":13,"tickSize":4,"labelPadding":13,"titlePadding":21,"domainColor":"#1F3A5A","domainWidth":2.5,"labelColor":"#595959","titleColor":"#7F7F7F"}},
    "y":{"field":"b","type":"quantitative","scale":{"domain":[0,120],"nice":false},
     "axis":{"values":[0,20,40,60,80,100,120],"tickCount":30,"labelOverlap":false,"title":"강수량(mm)","labelFontSize":11.5,"titleFontSize":14,"tickSize":4,"labelPadding":3,"titlePadding":8,"gridColor":"#C8C8C8","domainColor":"#404040","domainWidth":1.5,"labelColor":"#595959","titleColor":"#7F7F7F"}},
    "y2":{"datum":0}}},
  {"data":{"values":[{}]},"mark":{"type":"rect","fill":null,"stroke":"#E8202A","strokeWidth":2,"cornerRadius":5},
   "encoding":{"x":{"datum":171.5},"x2":{"datum":255.7},"y":{"datum":-4.1},"y2":{"datum":-20}}}
 ]},
 {"width":365,"height":237,"layer":[
  {"data":{"name":"p"},"mark":{"type":"rule","strokeWidth":1,"color":"#27548A","opacity":0.9},
   "encoding":{
    "x":{"field":"d","type":"quantitative","scale":{"domain":[1,367.1],"nice":false,"zero":false},
     "axis":{"values":[1,32,60,91,121,152,182,213,244,274,305,335],"tickCount":30,"labelOverlap":false,"labelExpr":"utcFormat(utc(2021,0,datum.value),'%-m/%-d')","title":"날짜(월/일)","grid":false,"labelFontSize":11.5,"titleFontSize":13,"tickSize":4,"labelPadding":13,"titlePadding":21,"domainColor":"#1F3A5A","domainWidth":2.5,"labelColor":"#595959","titleColor":"#7F7F7F"}},
    "y":{"field":"c","type":"quantitative","scale":{"domain":[0,120],"nice":false},
     "axis":{"values":[0,20,40,60,80,100,120],"tickCount":30,"labelOverlap":false,"title":"강수량(mm)","labelFontSize":11.5,"titleFontSize":14,"tickSize":4,"labelPadding":3,"titlePadding":8,"gridColor":"#C8C8C8","domainColor":"#404040","domainWidth":1.5,"labelColor":"#595959","titleColor":"#7F7F7F"}},
    "y2":{"datum":0}}},
  {"data":{"values":[{}]},"mark":{"type":"rect","fill":null,"stroke":"#E8202A","strokeWidth":2,"cornerRadius":5},
   "encoding":{"x":{"datum":221.7},"x2":{"datum":291.9},"y":{"datum":-4.1},"y2":{"datum":-20}}}
 ]}
]},
{"spacing":6,"hconcat":[
 {"width":9,"height":1,"data":{"values":[]},"mark":{"type":"point","opacity":0}},
 {"width":422,"height":46,"view":{"fill":"#F2D89D","stroke":null},"data":{"values":[{"t":"1980년대 강수량"}]},"mark":{"type":"text","fontSize":24,"color":"#1A1A1A","font":"Noto Sans CJK KR"},"encoding":{"text":{"field":"t"}}},
 {"width":423,"height":46,"view":{"fill":"#F2D89D","stroke":null},"data":{"values":[{"t":"2000년대 강수량"}]},"mark":{"type":"text","fontSize":24,"color":"#1A1A1A","font":"Noto Sans CJK KR"},"encoding":{"text":{"field":"t"}}},
 {"width":422,"height":46,"view":{"fill":"#F2D89D","stroke":null},"data":{"values":[{"t":"최근 5년 강수량"}]},"mark":{"type":"text","fontSize":24,"color":"#1A1A1A","font":"Noto Sans CJK KR"},"encoding":{"text":{"field":"t"}}}
]}
]
}
